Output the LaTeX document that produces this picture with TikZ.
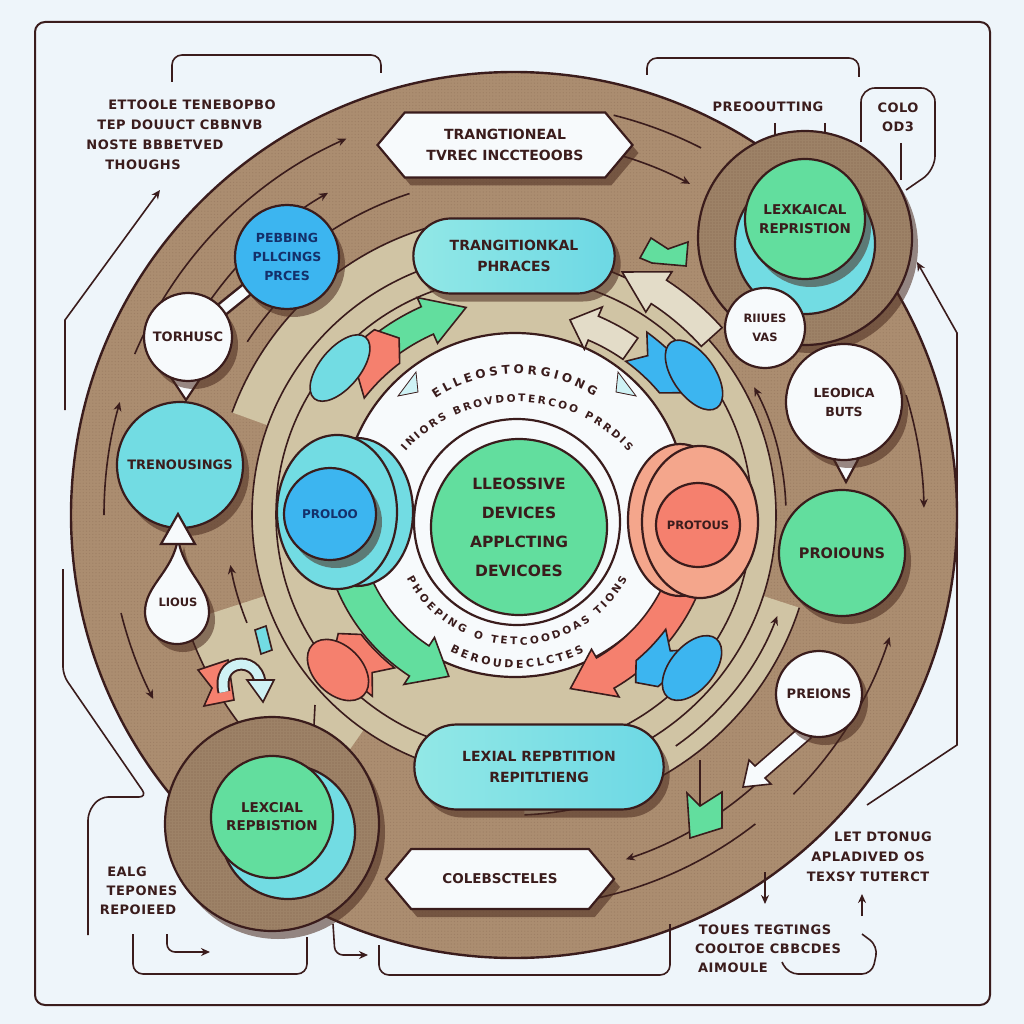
\documentclass[tikz,border=0pt]{standalone}
\usepackage{fontspec}
\setmainfont{DejaVu Sans}
\newfontfamily\spaced[LetterSpace=4]{DejaVu Sans}
\usetikzlibrary{calc,shapes.misc,shapes.symbols,shadows,arrows.meta,decorations.text,patterns.meta}
\definecolor{bg}{HTML}{EEF5FA}
\definecolor{ink}{HTML}{3A1C1C}
\definecolor{brownr}{HTML}{AB8D70}
\definecolor{beige}{HTML}{D0C4A4}
\definecolor{shadowc}{HTML}{4A2A1E}
\definecolor{grn}{HTML}{62DE9E}
\definecolor{cyn}{HTML}{72DCE3}
\definecolor{cynl}{HTML}{92E8E6}
\definecolor{blu}{HTML}{3CB5F0}
\definecolor{sal}{HTML}{F5806E}
\definecolor{lsal}{HTML}{F4A68C}
\definecolor{wht}{HTML}{F7FAFC}
\definecolor{navy}{HTML}{14306A}
\definecolor{pale}{HTML}{CFF2F5}
\newcommand\myfz[2]{\fontsize{#1}{#2}\selectfont\bfseries}
% curved band arrow: center, rin, rout, tail angle, head base angle, tip angle, style
\newcommand\bandarrow[7]{%
  \pgfmathsetmacro\rmid{(#2+#3)/2}%
  \pgfmathsetmacro\rinn{#2-10}%
  \pgfmathsetmacro\routt{#3+10}%
  \filldraw[#7] ($(#1)+(#4:#2)$) arc[start angle=#4, end angle=#5, radius=#2]
    -- ($(#1)+(#5:\rinn)$) -- ($(#1)+(#6:\rmid)$) -- ($(#1)+(#5:\routt)$)
    -- ($(#1)+(#5:#3)$) arc[start angle=#5, end angle=#4, radius=#3] -- cycle;}
% notched ribbon: center, rin, rout, a1, a2, style
\newcommand\ribbon[6]{%
  \pgfmathsetmacro\rmid{(#2+#3)/2}%
  \filldraw[#6] ($(#1)+(#4:#2)$) arc[start angle=#4, end angle=#5, radius=#2]
    -- ($(#1)+({#5+4}:\rmid)$) -- ($(#1)+(#5:#3)$)
    arc[start angle=#5, end angle=#4, radius=#3] -- ($(#1)+({#4+4}:\rmid)$) -- cycle;}
\begin{document}
\begin{tikzpicture}[x=1pt,y=-1pt,
  lin/.style={draw=ink, line width=1.6pt},
  thk/.style={draw=ink, line width=2.2pt},
  arr/.style={draw=ink, line width=1.6pt, -{Stealth[length=9pt,width=8pt]}},
  shd/.style={drop shadow={shadow xshift=6pt, shadow yshift=-8pt, fill=shadowc, opacity=0.55}},
  bub/.style={circle, draw=ink, line width=2.2pt, inner sep=0pt, align=center, text=ink},
  otext/.style={inner sep=0pt, text=ink, font=\spaced\myfz{13}{15}},
  ctext/.style={inner sep=0pt, align=center, text=ink}]
\fill[bg] (0,0) rectangle (1024,1024);
\useasboundingbox (0,0) rectangle (1024,1024);
\coordinate (C) at (514,515);
% frame
\draw[ink, line width=2pt, rounded corners=10pt] (35,22) rectangle (990,1005);
% brown ring
\filldraw[fill=brownr, draw=ink, line width=2.4pt] (C) circle[radius=443];
\fill[pattern={Dots[distance=3.2pt, radius=0.6pt]}, pattern color=shadowc, opacity=0.15] (C) circle[radius=443];
% beige bands
\fill[beige] ($(C)+(18:262)$) arc[start angle=18,end angle=88,radius=262] -- ($(C)+(88:300)$) arc[start angle=88,end angle=18,radius=300] -- cycle;
\draw[lin] ($(C)+(18:300)$) arc[start angle=18,end angle=88,radius=300];
\fill[beige] ($(C)+(200:262)$) arc[start angle=200,end angle=258,radius=262] -- ($(C)+(258:300)$) arc[start angle=258,end angle=200,radius=300] -- cycle;
\draw[lin] ($(C)+(200:300)$) arc[start angle=200,end angle=258,radius=300];
\fill[beige] ($(C)+(125:262)$) arc[start angle=125,end angle=162,radius=262] -- ($(C)+(162:345)$) arc[start angle=162,end angle=125,radius=345] -- cycle;
\draw[lin] ($(C)+(125:345)$) arc[start angle=125,end angle=162,radius=345];
\filldraw[fill=beige, lin] (C) circle[radius=262];
\draw[lin] (C) circle[radius=238];
% dark arcs in the brown ring
\draw[arr] ($(C)+(203:412)$) arc[start angle=203,end angle=246,radius=412];
\draw[arr] ($(C)+(212:372)$) arc[start angle=212,end angle=240,radius=372];
\draw[lin] ($(C)+(222:338)$) arc[start angle=222,end angle=252,radius=338];
\draw[arr] ($(C)+(213:318)$) arc[start angle=213,end angle=236,radius=318];
\draw[arr] ($(C)+(180:410)$) arc[start angle=180,end angle=196,radius=410];
\draw[arr] ($(C)+(166:405)$) arc[start angle=166,end angle=153,radius=405];
\draw[arr] ($(C)+(158:288)$) arc[start angle=158,end angle=170,radius=288];
\draw[lin] ($(C)+(284:412)$) arc[start angle=284,end angle=297,radius=412];
\draw[arr] ($(C)+(281:375)$) arc[start angle=281,end angle=298,radius=375];
\draw[arr] ($(C)+(343:410)$) arc[start angle=343,end angle=359,radius=410];
\draw[arr] ($(C)+(358:272)$) arc[start angle=358,end angle=332,radius=272];
\draw[arr] ($(C)+(55:282)$) arc[start angle=55,end angle=21,radius=282];
\draw[arr] ($(C)+(45:395)$) arc[start angle=45,end angle=18,radius=395];
\draw[arr] ($(C)+(48:362)$) arc[start angle=48,end angle=72,radius=362];
\draw[lin] ($(C)+(52:392)$) arc[start angle=52,end angle=80,radius=392];
\coordinate (bl1) at (315,705); \coordinate (bl2) at (313,745);
\draw[arr] (bl1) -- (bl2);
% outer connectors
\coordinate (p1) at (63,569); \coordinate (p2) at (88,935);
\draw[lin, rounded corners=8pt] (p1) -- (63,675) -- (147,797) -- (100,797) -- (88,812) -- (p2);
\coordinate (p3) at (65,410); \coordinate (p4) at (160,190);
\draw[arr] (p3) -- (65,320) -- (p4);
\coordinate (p5) at (172,82); \coordinate (p6) at (381,73);
\draw[lin, rounded corners=10pt] (p5) -- (172,55) -- (381,55) -- (p6);
\coordinate (p7) at (647,75); \coordinate (p8) at (859,77);
\draw[lin, rounded corners=10pt] (p7) -- (647,58) -- (859,58) -- (p8);
\coordinate (p9) at (861,142); \coordinate (p10) at (906,190);
\draw[lin, rounded corners=14pt] (p9) -- (861,88) -- (935,88) -- (935,170) -- (p10);
\coordinate (p11) at (901,143); \coordinate (p12) at (901,180);
\draw[lin] (p11) -- (p12);
\coordinate (p13) at (775,123); \coordinate (p14) at (775,152);
\draw[lin] (p13) -- (p14);
\coordinate (p15) at (825,123); \coordinate (p16) at (825,148);
\draw[lin] (p15) -- (p16);
\coordinate (p17) at (867,805); \coordinate (p18) at (917,262);
\draw[arr] (p17) -- (957,745) -- (957,333) -- (p18);
\coordinate (p19) at (133,934); \coordinate (p20) at (307,937);
\draw[lin, rounded corners=10pt] (p19) -- (133,974) -- (307,974) -- (p20);
\coordinate (p21) at (167,934); \coordinate (p22) at (210,952);
\draw[arr, rounded corners=8pt] (p21) -- (167,952) -- (p22);
\coordinate (p23) at (333,924); \coordinate (p24) at (368,955);
\draw[arr, rounded corners=8pt] (p23) -- (335,955) -- (p24);
\coordinate (p25) at (379,945); \coordinate (p26) at (670,924);
\draw[lin, rounded corners=10pt] (p25) -- (379,975) -- (670,975) -- (p26);
\coordinate (p27) at (765,872); \coordinate (p28) at (765,904);
\draw[arr] (p27) -- (p28);
\coordinate (p29) at (862,916); \coordinate (p30) at (862,894);
\draw[arr] (p29) -- (p30);
\coordinate (p31) at (782,962); \coordinate (p32) at (862,934);
\draw[lin, rounded corners=10pt] (p31) -- (788,974) -- (872,974) -- (878,946) -- (p32);
% top-right cluster disc
\filldraw[fill=brownr!92!black, thk, shd] (805,238) circle[radius=107];
\fill[pattern={Dots[distance=3pt, radius=0.7pt]}, pattern color=shadowc, opacity=0.3] (805,238) circle[radius=107];
\filldraw[fill=cyn, thk] (805,244) circle[radius=70];
\node[bub, fill=grn, minimum size=120pt, font=\myfz{13.5}{19}, shd] (lexa) at (805,219) {LEXKAICAL\\REPRISTION};
% bottom-left cluster disc
\filldraw[fill=brownr!92!black, thk, shd] (272,824) circle[radius=107];
\fill[pattern={Dots[distance=3pt, radius=0.7pt]}, pattern color=shadowc, opacity=0.3] (272,824) circle[radius=107];
\filldraw[fill=cyn, thk] (288,832) circle[radius=67];
\node[bub, fill=grn, minimum size=122pt, font=\myfz{13.5}{18}] (lexb) at (272,817) {LEXCIAL\\REPBISTION};
% beige outline arrows & green shape near top pill
\bandarrow{C}{252}{280}{318}{303}{294}{fill=beige!60!white, lin}
\filldraw[fill=grn, lin] (640,258) -- (651,238) -- (668,249) -- (688,242) -- (686,266) -- (652,263) -- cycle;
% center white disc
\filldraw[fill=wht, thk] (515,505) circle[radius=172];
\filldraw[fill=wht, thk] (517,522) circle[radius=103];
% ring elements
\bandarrow{C}{198}{228}{226}{246}{257}{fill=grn, lin}
\ribbon{C}{190}{232}{218}{233}{fill=sal, lin}
\begin{scope}[shift={(340,368)}, rotate=50]
\filldraw[fill=cyn, lin] (0,0) ellipse[x radius=40, y radius=20];
\end{scope}
\bandarrow{C}{190}{216}{305}{293}{286}{fill=beige!60!white, lin}
\ribbon{C}{190}{226}{306}{320}{fill=blu, lin}
\begin{scope}[shift={(694,375)}, rotate=-55]
\filldraw[fill=blu, lin] (0,0) ellipse[x radius=40, y radius=21];
\end{scope}
\bandarrow{C}{156}{192}{158}{123}{112}{fill=grn, lin}
\ribbon{C}{194}{230}{128}{142}{fill=sal, lin}
\begin{scope}[shift={(338,670)}, rotate=-45]
\filldraw[fill=sal, lin] (0,0) ellipse[x radius=36, y radius=24];
\end{scope}
\bandarrow{C}{165}{200}{20}{60}{72}{fill=sal, lin}
\ribbon{C}{190}{224}{37}{50}{fill=blu, lin}
\begin{scope}[shift={(692,668)}, rotate=50]
\filldraw[fill=blu, lin] (0,0) ellipse[x radius=38, y radius=22];
\end{scope}
\filldraw[fill=pale, draw=ink, line width=0.8pt] (398,396) -- (416,372) -- (418,392) -- cycle;
\filldraw[fill=pale, draw=ink, line width=0.8pt] (618,372) -- (636,396) -- (616,392) -- cycle;
% PROLOO group
\filldraw[fill=cyn, thk] (357,512) ellipse[x radius=56, y radius=74];
\filldraw[fill=cyn, thk] (337,512) ellipse[x radius=60, y radius=77];
\node[bub, fill=blu, text=navy, minimum size=92pt, font=\myfz{12}{14}, shd] (prol) at (330,514) {PROLOO};
% PROTOUS group
\filldraw[fill=lsal, thk] (680,520) ellipse[x radius=52, y radius=76];
\filldraw[fill=lsal, thk] (700,522) ellipse[x radius=58, y radius=76];
\node[bub, fill=sal, minimum size=84pt, font=\myfz{11.5}{14}] (prot) at (698,525) {PROTOUS};
% center
\node[bub, fill=grn, minimum size=176pt, font=\myfz{15.5}{29}] (cen) at (519,527) {LLEOSSIVE\\DEVICES\\APPLCTING\\DEVICOES};
\path[decorate, decoration={text along path, text align=fit to path, text={|\myfz{12}{14}\color{ink}|ELLEOSTORGIONG}}] ($(517,520)+(236:146)$) arc[start angle=236, end angle=302, radius=146];
\path[decorate, decoration={text along path, text align=fit to path, text={|\myfz{10.5}{12}\color{ink}|INIORS BROVDOTERCOO PRRDIS}}] ($(517,552)+(222:150)$) arc[start angle=222, end angle=318, radius=150];
\path[decorate, decoration={text along path, text align=fit to path, text={|\myfz{10.5}{12}\color{ink}|PHOEPING O TETCOODOAS TIONS}}] ($(517,520)+(152:125)$) arc[start angle=152, end angle=28, radius=125];
\path[decorate, decoration={text along path, text align=fit to path, text={|\myfz{11}{12}\color{ink}|BEROUDECLCTES}}] ($(517,520)+(117:148)$) arc[start angle=117, end angle=63, radius=148];
% banners and pills
\node[signal, signal to=east and west, signal pointer angle=100, draw=ink, line width=2.2pt, fill=wht, minimum width=255pt, minimum height=65pt, shd, align=center, text=ink, font=\myfz{14}{21}] (tb) at (505,145) {TRANGTIONEAL\\TVREC INCCTEOOBS};
\node[rounded rectangle, draw=ink, line width=2.2pt, left color=cynl, right color=cyn!90!blu, minimum width=208pt, minimum height=75pt, shd, align=center, text=ink, font=\myfz{14}{21}] (tp) at (514,256) {TRANGITIONKAL\\PHRACES};
\node[rounded rectangle, draw=ink, line width=2.2pt, left color=cynl, right color=cyn!90!blu, minimum width=256pt, minimum height=85pt, shd, align=center, text=ink, font=\myfz{14}{21}] (bp) at (539,767) {LEXIAL REPBTITION\\REPITLTIENG};
\node[signal, signal to=east and west, signal pointer angle=100, draw=ink, line width=2.2pt, fill=wht, minimum width=228pt, minimum height=60pt, shd, text=ink, font=\myfz{13.5}{17}] (bb) at (500,879) {COLEBSCTELES};
% left nodes
\draw[ink, line width=15pt] (188,337) -- (287,257);
\draw[wht, line width=10pt] (188,337) -- (287,257);
\filldraw[fill=wht, thk] (170,376) -- (202,376) -- (186,400) -- cycle;
\node[bub, fill=blu, text=navy, minimum size=104pt, font=\myfz{12.5}{19}, shd] (peb) at (287,257) {PEBBING\\PLLCINGS\\PRCES};
\node[bub, fill=wht, minimum size=88pt, font=\myfz{13}{16}, shd] (torh) at (188,337) {TORHUSC};
\node[bub, fill=cyn, minimum size=126pt, font=\myfz{13}{16}, shd] (tren) at (180,465) {TRENOUSINGS};
\filldraw[fill=wht, thk, shd] (178,538) .. controls (173,572) and (145,585) .. (145,612) arc[start angle=180, end angle=0, radius=32] .. controls (209,585) and (183,572) .. (178,538) -- cycle;
\filldraw[fill=wht, thk] (161,544) -- (195,544) -- (178,514) -- cycle;
\node[ctext, font=\myfz{11.5}{13}] (lious) at (178,602) {LIOUS};
% bottom-left small shapes
\filldraw[fill=sal, lin] (198,670) -- (228,660) -- (234,700) -- (204,706) -- (212,688) -- cycle;
\draw[ink, line width=13pt] (224,692) .. controls (216,660) and (256,654) .. (260,682);
\draw[pale, line width=9pt] (224,692) .. controls (216,660) and (256,654) .. (260,682);
\filldraw[fill=pale, lin] (247,680) -- (274,680) -- (263,702) -- cycle;
\filldraw[fill=cyn, lin] (255,630) -- (266,626) -- (272,650) -- (261,654) -- cycle;
% right nodes
\node[bub, fill=wht, minimum size=80pt, font=\myfz{11.5}{19}] (riiu) at (765,328) {RIIUES\\VAS};
\filldraw[fill=wht, thk] (832,456) -- (860,456) -- (846,482) -- cycle;
\node[bub, fill=wht, minimum size=116pt, font=\myfz{12.5}{19}, shd] (leod) at (844,402) {LEODICA\\BUTS};
\node[bub, fill=grn, minimum size=126pt, font=\myfz{14.5}{17}, shd] (proi) at (842,553) {PROIOUNS};
\filldraw[fill=wht, lin] (801,726) -- (811,738) -- (765,778) -- (771,784) -- (743,787) -- (749,760) -- (755,766) -- cycle;
\node[bub, fill=wht, minimum size=86pt, font=\myfz{13}{16}, shd] (prei) at (819,694) {PREIONS};
\coordinate (g1) at (700,760); \coordinate (g2) at (700,806);
\draw[lin] (g1) -- (g2);
\filldraw[fill=grn, lin] (687,793) -- (700,806) -- (722,792) -- (722,828) -- (690,838) -- cycle;
% outer texts
\node[otext] (t1) at (192,105) {ETTOOLE TENEBOPBO};
\node[otext] (t2) at (180,125) {TEP DOUUCT CBBNVB};
\node[otext] (t3) at (155,145) {NOSTE BBBETVED};
\node[otext] (t4) at (143,165) {THOUGHS};
\node[otext] (t5) at (768,107) {PREOOUTTING};
\node[otext] (t6) at (898,108) {COLO};
\node[otext] (t7) at (898,127) {OD3};
\node[otext] (t8) at (883,837) {LET DTONUG};
\node[otext] (t9) at (868,857) {APLADIVED OS};
\node[otext] (t10) at (868,877) {TEXSY TUTERCT};
\node[otext] (t11) at (765,930) {TOUES TEGTINGS};
\node[otext] (t12) at (768,949) {COOLTOE CBBCDES};
\node[otext] (t13) at (733,968) {AIMOULE};
\node[otext] (t14) at (127,872) {EALG};
\node[otext] (t15) at (142,891) {TEPONES};
\node[otext] (t16) at (138,910) {REPOIEED};
\end{tikzpicture}
\end{document}
